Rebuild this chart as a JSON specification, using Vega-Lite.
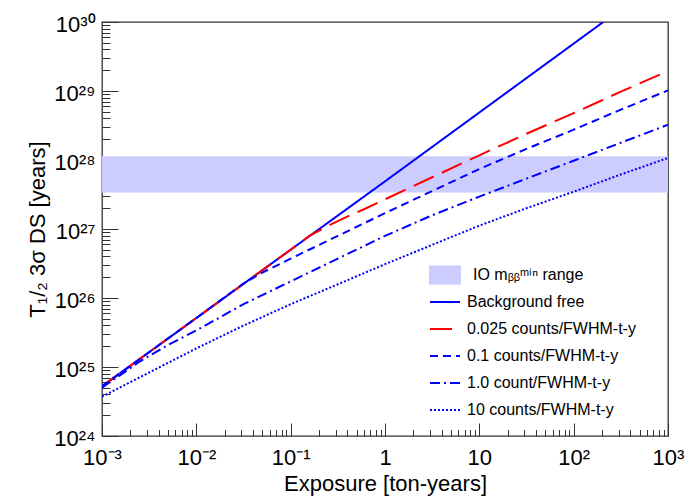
{
  "$schema": "https://vega.github.io/schema/vega-lite/v6.json",
  "width": 566,
  "height": 414,
  "autosize": {"type": "none"},
  "padding": {"left": 102, "top": 22, "right": 25, "bottom": 62},
  "background": "#ffffff",
  "config": {
    "font": "Liberation Sans",
    "view": {"stroke": "#333333", "strokeWidth": 1.3},
    "axis": {"domain": false, "grid": false, "labelFont": "Liberation Sans", "titleFont": "Liberation Sans", "labelColor": "#000000", "titleColor": "#000000", "tickColor": "#333333", "tickWidth": 1, "labelFlush": false, "labelOverlap": false, "labelBound": false, "titleFontWeight": "normal", "zindex": 1},
    "legend": {"labelFont": "Liberation Sans", "labelColor": "#000000", "labelFontSize": 16, "padding": 0, "labelLimit": 400}
  },
  "datasets": {
    "band": [{"lo": 3.39e27, "hi": 1.13e28, "label": "IO mᵦᵦᵐⁱⁿ range"}],
    "lines": [
      {"series": "Background free", "E": 0.001, "T": 5.25e24},
      {"series": "Background free", "E": 0.01, "T": 5.13e25},
      {"series": "Background free", "E": 1, "T": 4.9e27},
      {"series": "Background free", "E": 206, "T": 1.0e30},
      {"series": "0.025 counts/FWHM-t-y", "E": 0.001, "T": 5.25e24},
      {"series": "0.025 counts/FWHM-t-y", "E": 0.01, "T": 5.13e25},
      {"series": "0.025 counts/FWHM-t-y", "E": 0.1, "T": 5.01e26},
      {"series": "0.025 counts/FWHM-t-y", "E": 0.158, "T": 7.94e26},
      {"series": "0.025 counts/FWHM-t-y", "E": 0.251, "T": 1.12e27},
      {"series": "0.025 counts/FWHM-t-y", "E": 0.398, "T": 1.51e27},
      {"series": "0.025 counts/FWHM-t-y", "E": 0.631, "T": 2.0e27},
      {"series": "0.025 counts/FWHM-t-y", "E": 1, "T": 2.69e27},
      {"series": "0.025 counts/FWHM-t-y", "E": 3.16, "T": 5.62e27},
      {"series": "0.025 counts/FWHM-t-y", "E": 10, "T": 1.17e28},
      {"series": "0.025 counts/FWHM-t-y", "E": 31.6, "T": 2.4e28},
      {"series": "0.025 counts/FWHM-t-y", "E": 100, "T": 4.79e28},
      {"series": "0.025 counts/FWHM-t-y", "E": 316, "T": 9.77e28},
      {"series": "0.025 counts/FWHM-t-y", "E": 1000, "T": 1.95e29},
      {"series": "0.1 counts/FWHM-t-y", "E": 0.001, "T": 5.25e24},
      {"series": "0.1 counts/FWHM-t-y", "E": 0.01, "T": 5.13e25},
      {"series": "0.1 counts/FWHM-t-y", "E": 0.0316, "T": 1.62e26},
      {"series": "0.1 counts/FWHM-t-y", "E": 0.0501, "T": 2.34e26},
      {"series": "0.1 counts/FWHM-t-y", "E": 0.1, "T": 3.72e26},
      {"series": "0.1 counts/FWHM-t-y", "E": 0.316, "T": 7.94e26},
      {"series": "0.1 counts/FWHM-t-y", "E": 1, "T": 1.7e27},
      {"series": "0.1 counts/FWHM-t-y", "E": 3.16, "T": 3.55e27},
      {"series": "0.1 counts/FWHM-t-y", "E": 10, "T": 7.41e27},
      {"series": "0.1 counts/FWHM-t-y", "E": 31.6, "T": 1.45e28},
      {"series": "0.1 counts/FWHM-t-y", "E": 100, "T": 2.75e28},
      {"series": "0.1 counts/FWHM-t-y", "E": 316, "T": 5.37e28},
      {"series": "0.1 counts/FWHM-t-y", "E": 1000, "T": 1.02e29},
      {"series": "1.0 count/FWHM-t-y", "E": 0.001, "T": 5.01e24},
      {"series": "1.0 count/FWHM-t-y", "E": 0.00251, "T": 1.2e25},
      {"series": "1.0 count/FWHM-t-y", "E": 0.00501, "T": 2.09e25},
      {"series": "1.0 count/FWHM-t-y", "E": 0.01, "T": 3.39e25},
      {"series": "1.0 count/FWHM-t-y", "E": 0.0316, "T": 8.13e25},
      {"series": "1.0 count/FWHM-t-y", "E": 0.1, "T": 1.74e26},
      {"series": "1.0 count/FWHM-t-y", "E": 0.316, "T": 3.72e26},
      {"series": "1.0 count/FWHM-t-y", "E": 1, "T": 7.94e26},
      {"series": "1.0 count/FWHM-t-y", "E": 3.16, "T": 1.58e27},
      {"series": "1.0 count/FWHM-t-y", "E": 10, "T": 2.95e27},
      {"series": "1.0 count/FWHM-t-y", "E": 31.6, "T": 5.37e27},
      {"series": "1.0 count/FWHM-t-y", "E": 100, "T": 9.77e27},
      {"series": "1.0 count/FWHM-t-y", "E": 316, "T": 1.78e28},
      {"series": "1.0 count/FWHM-t-y", "E": 1000, "T": 3.24e28},
      {"series": "10 counts/FWHM-t-y", "E": 0.001, "T": 3.72e24},
      {"series": "10 counts/FWHM-t-y", "E": 0.00316, "T": 8.32e24},
      {"series": "10 counts/FWHM-t-y", "E": 0.01, "T": 1.86e25},
      {"series": "10 counts/FWHM-t-y", "E": 0.0316, "T": 3.98e25},
      {"series": "10 counts/FWHM-t-y", "E": 0.1, "T": 8.13e25},
      {"series": "10 counts/FWHM-t-y", "E": 0.316, "T": 1.58e26},
      {"series": "10 counts/FWHM-t-y", "E": 1, "T": 3.09e26},
      {"series": "10 counts/FWHM-t-y", "E": 3.16, "T": 5.89e26},
      {"series": "10 counts/FWHM-t-y", "E": 10, "T": 1.12e27},
      {"series": "10 counts/FWHM-t-y", "E": 31.6, "T": 2.0e27},
      {"series": "10 counts/FWHM-t-y", "E": 100, "T": 3.47e27},
      {"series": "10 counts/FWHM-t-y", "E": 316, "T": 6.17e27},
      {"series": "10 counts/FWHM-t-y", "E": 1000, "T": 1.07e28}
    ]
  },
  "layer": [
    {
      "data": {"name": "band"},
      "mark": {"type": "rect", "opacity": 1},
      "encoding": {
        "y": {"field": "lo", "type": "quantitative", "scale": {"type": "log", "domain": [1e24, 1e30], "nice": false}, "axis": null},
        "y2": {"field": "hi"},
        "fill": {"field": "label", "type": "nominal", "scale": {"range": ["#ccccff"]},
          "legend": {"title": null, "orient": "none", "legendX": 327, "legendY": 237, "symbolType": "M-1,-0.6L1,-0.6L1,0.6L-1,0.6Z", "symbolSize": 1024, "symbolStrokeWidth": 0, "symbolOpacity": 1, "labelOffset": 12}}
      }
    },
    {
      "data": {"name": "lines"},
      "mark": {"type": "line", "strokeWidth": 2, "clip": true},
      "encoding": {
        "x": {"field": "E", "type": "quantitative", "scale": {"type": "log", "domain": [0.001, 1000], "nice": false},
          "axis": {"orient": "bottom", "offset": -13, "values": [0.001, 0.01, 0.1, 1, 10, 100, 1000], "tickSize": 13, "labelPadding": 11, "labelFontSize": 22,
            "labelExpr": "datum.value < 0.005 ? '10⁻³' : datum.value < 0.05 ? '10⁻²' : datum.value < 0.5 ? '10⁻¹' : datum.value < 5 ? '1' : datum.value < 50 ? '10' : datum.value < 500 ? '10²' : '10³'",
            "title": "Exposure [ton-years]", "titleFontSize": 22, "titleY": 67, "titleBaseline": "alphabetic"}},
        "y": {"field": "T", "type": "quantitative", "scale": {"type": "log", "domain": [1e24, 1e30], "nice": false},
          "axis": {"orient": "left", "offset": -16, "values": [1e24, 1e25, 1e26, 1e27, 1e28, 1e29, 1e30], "tickSize": 16, "labelPadding": 7, "labelFontSize": 22, "labelOffset": 2,
            "labelExpr": "'10' + ['²⁴','²⁵','²⁶','²⁷','²⁸','²⁹','³⁰'][round(log(datum.value)/LN10) - 24]",
            "title": "T₁/₂ 3σ DS [years]", "titleFontSize": 22, "titleX": -74, "titleY": 207, "titleAngle": -90, "titleAlign": "center", "titleBaseline": "alphabetic"}},
        "stroke": {"field": "series", "type": "nominal",
          "scale": {"domain": ["Background free", "0.025 counts/FWHM-t-y", "0.1 counts/FWHM-t-y", "1.0 count/FWHM-t-y", "10 counts/FWHM-t-y"], "range": ["#0000ff", "#ff0000", "#0000ff", "#0000ff", "#0000ff"]},
          "legend": {"title": null, "orient": "none", "legendX": 327, "legendY": 264, "symbolType": "stroke", "symbolSize": 900, "symbolStrokeWidth": 2, "rowPadding": 3, "labelOffset": 6}},
        "strokeDash": {"field": "series", "type": "nominal",
          "scale": {"domain": ["Background free", "0.025 counts/FWHM-t-y", "0.1 counts/FWHM-t-y", "1.0 count/FWHM-t-y", "10 counts/FWHM-t-y"], "range": [[1, 0], [22, 9], [8, 5], [10, 4, 2, 4], [2, 2]]},
          "legend": {"title": null, "orient": "none", "legendX": 327, "legendY": 264, "symbolType": "stroke", "symbolSize": 900, "symbolStrokeWidth": 2, "rowPadding": 3, "labelOffset": 6}},
        "order": {"field": "E", "type": "quantitative"}
      }
    },
    {
      "data": {"name": "lines"},
      "mark": {"type": "point", "opacity": 0},
      "encoding": {
        "x": {"field": "E", "type": "quantitative",
          "axis": {"orient": "bottom", "offset": -6.5, "values": [0.002, 0.003, 0.004, 0.005, 0.006, 0.007, 0.008, 0.009, 0.02, 0.03, 0.04, 0.05, 0.06, 0.07, 0.08, 0.09, 0.2, 0.3, 0.4, 0.5, 0.6, 0.7, 0.8, 0.9, 2, 3, 4, 5, 6, 7, 8, 9, 20, 30, 40, 50, 60, 70, 80, 90, 200, 300, 400, 500, 600, 700, 800, 900], "tickSize": 6.5, "labels": false, "title": null}},
        "y": {"field": "T", "type": "quantitative",
          "axis": {"orient": "left", "offset": -8, "values": [2e24, 3e24, 4e24, 5e24, 6e24, 7e24, 8e24, 9e24, 2e25, 3e25, 4e25, 5e25, 6e25, 7e25, 8e25, 9e25, 2e26, 3e26, 4e26, 5e26, 6e26, 7e26, 8e26, 9e26, 2e27, 3e27, 4e27, 5e27, 6e27, 7e27, 8e27, 9e27, 2e28, 3e28, 4e28, 5e28, 6e28, 7e28, 8e28, 9e28, 2e29, 3e29, 4e29, 5e29, 6e29, 7e29, 8e29, 9e29], "tickSize": 8, "labels": false, "title": null}}
      }
    }
  ],
  "resolve": {"axis": {"x": "independent", "y": "independent"}}
}
